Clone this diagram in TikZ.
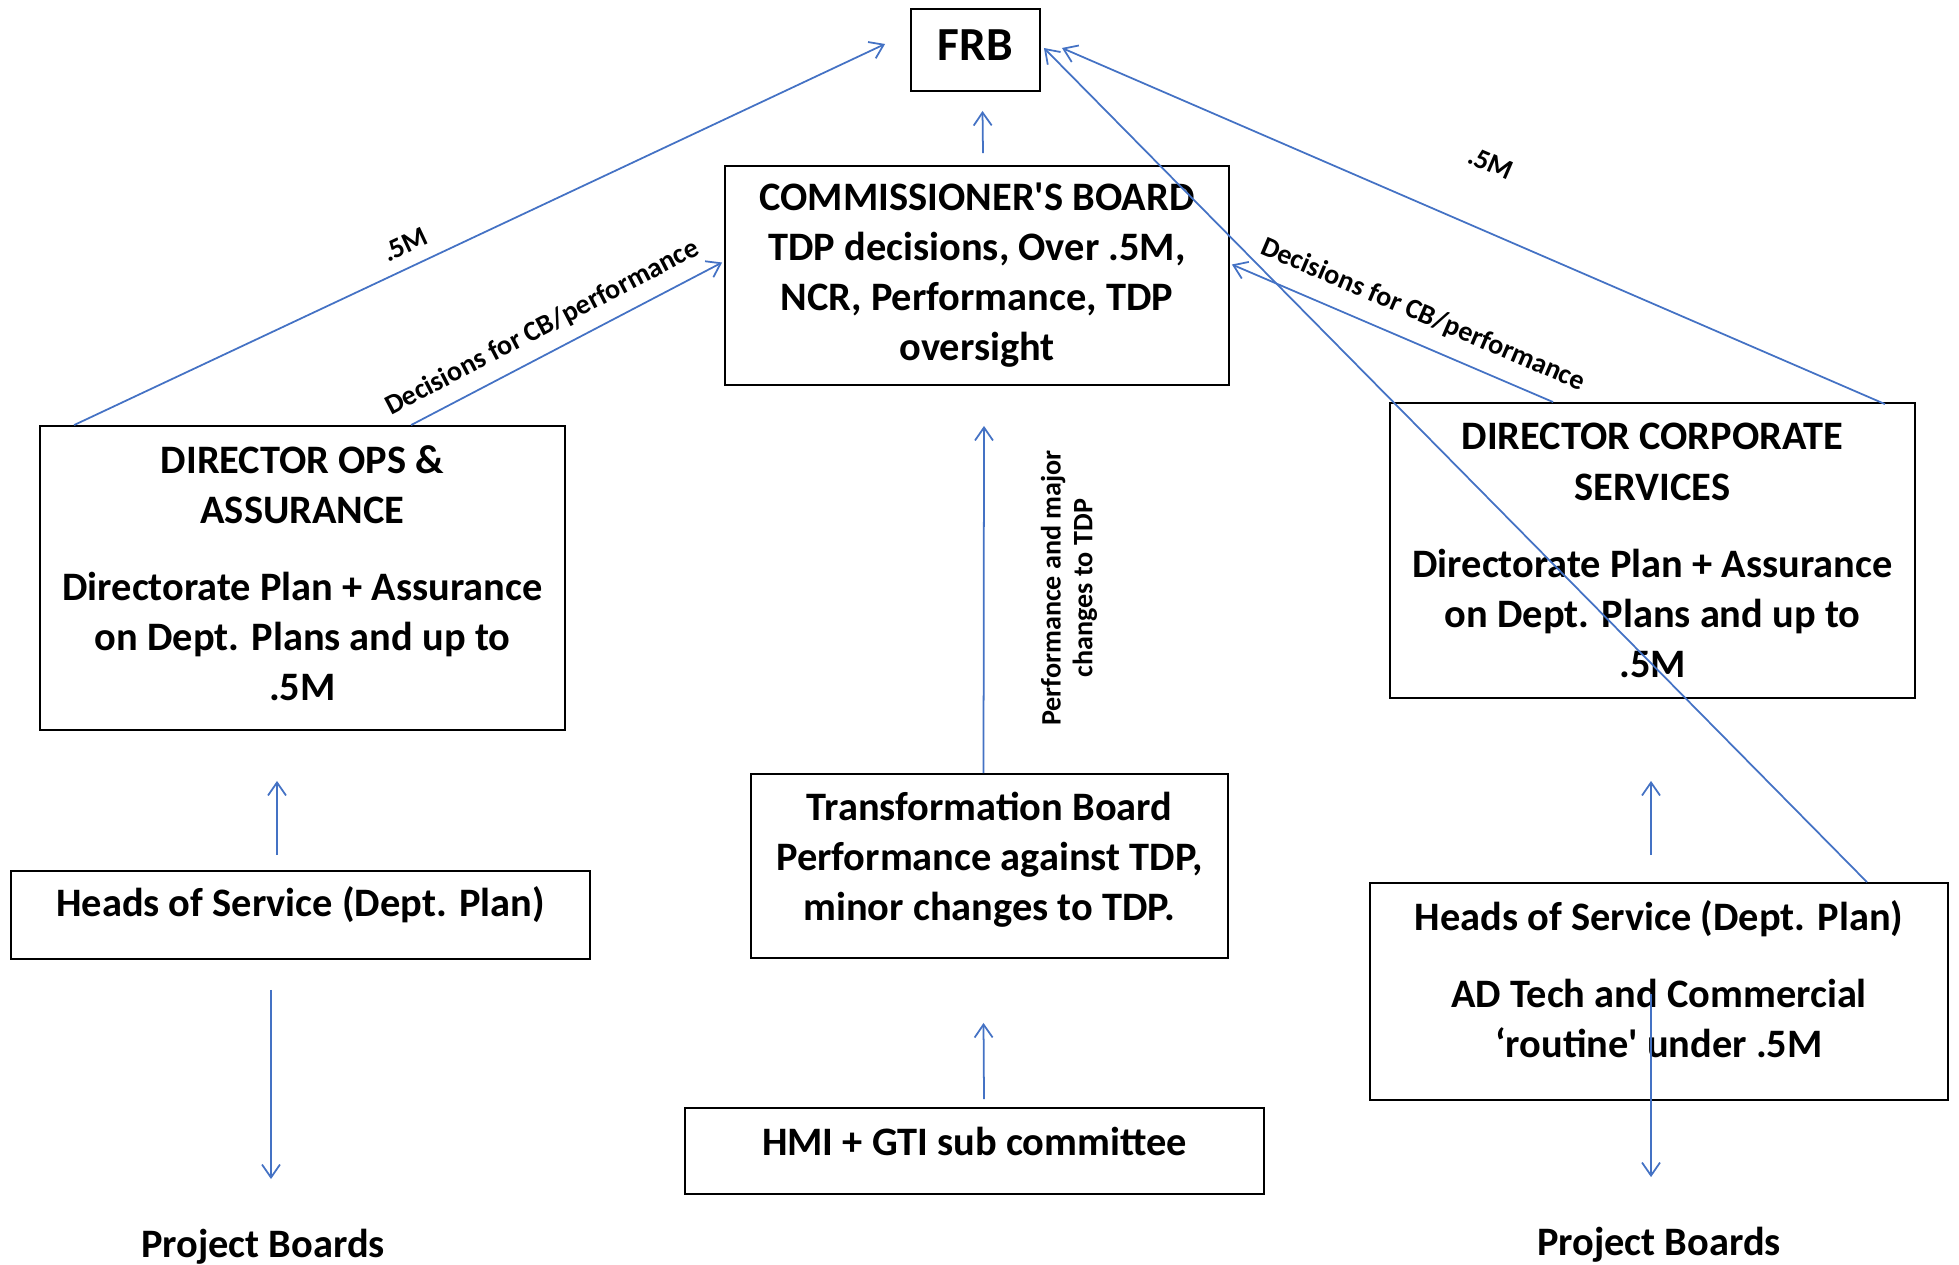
\documentclass[tikz,border=0pt]{standalone}
\usepackage{fontspec}
\setmainfont{Carlito}
\usetikzlibrary{arrows.meta,positioning,calc}
\definecolor{flowblue}{RGB}{68,114,196}
\newcommand\govfont{\fontsize{23}{28.5}\selectfont\bfseries}
\newcommand\edgefont{\fontsize{16}{18}\selectfont\bfseries}
\tikzset{gov edge/.style={-{Straight Barb[length=2.6mm,width=3.6mm]}, draw=flowblue, line width=1pt}}
\tikzset{gov box/.style={draw=black, line width=1.1pt, inner sep=0pt}}
\tikzset{gov text/.style={align=center, inner sep=0pt, font=\govfont}}
\tikzset{gov label/.style={font=\edgefont, inner sep=2pt, align=center}}
\tikzset{gov plain/.style={font=\govfont, inner sep=0pt}}

\begin{document}
\begin{tikzpicture}[x=0.02cm,y=-0.02cm]
	\useasboundingbox (0,0) rectangle (1959,1264);

	\node[gov box, minimum width=2.58cm, minimum height=1.64cm,
	label={[gov text, font=\fontsize{27}{30}\selectfont\bfseries, yshift=2.8pt]center:FRB}] (frb) at (975.5,50) {};
	\node[gov box, minimum width=10.08cm, minimum height=4.38cm,
	label={[gov text]center:{COMMISSIONER\textquotesingle S BOARD\\TDP decisions, Over .5M,\\NCR, Performance, TDP\\oversight}}] (cb) at (977,275.5) {};
	\node[gov box, minimum width=10.5cm, minimum height=6.08cm,
	label={[gov text, yshift=2.8pt]center:{DIRECTOR OPS \&\\ASSURANCE\\[0.54cm]Directorate Plan + Assurance\\on Dept. Plans and up to\\.5M}}] (dirops) at (302.5,578) {};
	\node[gov box, minimum width=10.5cm, minimum height=5.9cm,
	label={[gov text]center:{DIRECTOR CORPORATE\\SERVICES\\[0.54cm]Directorate Plan + Assurance\\on Dept. Plans and up to\\.5M}}] (dircorp) at (1652.5,550.5) {};
	\node[gov box, minimum width=11.58cm, minimum height=1.76cm,
	label={[gov text, yshift=5.7pt]center:{Heads of Service (Dept. Plan)}}] (headsl) at (300.5,915) {};
	\node[gov box, minimum width=9.54cm, minimum height=3.68cm,
	label={[gov text, yshift=3.6pt]center:{Transformation Board\\Performance against TDP,\\minor changes to TDP.}}] (tb) at (989.5,866) {};
	\node[gov box, minimum width=11.58cm, minimum height=1.72cm,
	label={[gov text, yshift=5.7pt]center:{HMI + GTI sub committee}}] (hmi) at (974.5,1151) {};
	\node[gov box, minimum width=11.56cm, minimum height=4.34cm,
	label={[gov text, yshift=7pt]center:{Heads of Service (Dept. Plan)\\[0.52cm]AD Tech and Commercial\\‘routine\textquotesingle\ under .5M}}] (headsr) at (1659,991.5) {};
	\node[gov plain] (projl) at (263,1247) {Project Boards};
	\node[gov plain] (projr) at (1659,1245) {Project Boards};

	\draw[gov edge] ($(cb.north)+(6,-12)$) -- ($(frb.south)+(7,19)$);
	\draw[gov edge] ($(dirops.north west)+(35,0)$) -- node[gov label, sloped, above=5pt, pos=0.42] {.5M} ($(frb.west)+(-25,-6)$);
	\draw[gov edge] ($(dirops.north west)+(372,0)$) -- node[gov label, sloped, above=5pt, pos=0.46] {Decisions for CB/performance} ($(cb.west)+(-2,-13)$);
	\draw[gov edge] ($(dircorp.north west)+(164,0)$) -- node[gov label, sloped, above=7pt, pos=0.44] {Decisions for CB/performance} ($(cb.east)+(2,-11)$);
	\draw[gov edge] ($(dircorp.north east)+(-31,2)$) -- node[gov label, sloped, above=29pt, pos=0.51] {.5M} ($(frb.east)+(21,-2)$);
	\draw[gov edge] ($(headsr.north east)+(-82,0)$) -- ($(frb.east)+(3,-2)$);

	\draw[gov edge] ($(tb.north)+(-6,0)$) -- ($(cb.south)+(7,40)$);
	\node[gov label, rotate=90] (perf) at (1069,588) {Performance and major\\changes to TDP};
	\draw[gov edge] ($(hmi.north)+(9.5,-8)$) -- ($(tb.south)+(-6,64)$);

	\draw[gov edge] ($(headsl.north)+(-23.5,-15)$) -- ($(dirops.south)+(-25.5,50)$);
	\draw[gov edge] ($(headsl.south)+(-29.5,30)$) -- ($(projl.north)+(8,-50)$);
	\draw[gov edge] ($(headsr.north)+(-8,-27)$) -- ($(dircorp.south)+(-1.5,82)$);
	\draw[gov edge] ($(headsr.center)+(-8,2.5)$) -- ($(projr.north)+(-8,-50)$);
\end{tikzpicture}
\end{document}
